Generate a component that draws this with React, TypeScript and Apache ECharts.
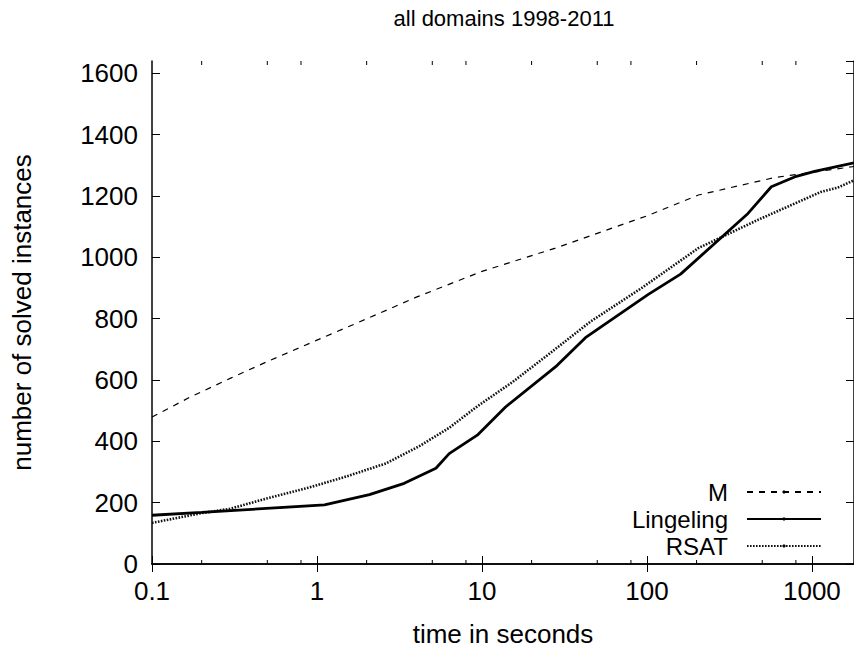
import React, { useEffect, useRef } from "react";
import * as echarts from "echarts";

const TITLE = "all domains 1998-2011";
const X_NAME = "time in seconds";
const Y_NAME = "number of solved instances";
const X_MIN = 0.1;
const X_MAX = 1800;
const Y_MIN = 0;
const Y_MAX = 1640;
const Y_STEP = 200;
const xMinorTicks = [0.2, 0.5, 0.8, 2, 5, 8, 20, 50, 80, 200, 500, 800];

const mX = [0.1, 0.17, 0.3, 0.5, 1, 1.77, 4, 10, 27.9, 100, 205, 594, 1800];
const mY = [479, 544, 606, 660, 730, 787, 870, 954, 1030, 1135, 1203, 1260, 1296];

const lingX = [0.1, 0.2, 1.11, 2.08, 3.38, 5.26, 6.33, 9.37, 13.9, 28.5, 42.4, 102, 160, 410, 568, 785, 1038, 1800];
const lingY = [159, 168, 193, 226, 263, 312, 360, 420, 512, 647, 738, 879, 945, 1143, 1230, 1262, 1280, 1308];

const rsatX = [0.1, 0.2, 0.297, 0.506, 0.904, 1.5, 2.62, 4.17, 6.33, 9.37, 15.3, 25.4, 45.4, 93, 205, 471, 1132, 1432, 1800];
const rsatY = [134, 166, 180, 215, 250, 285, 328, 384, 444, 514, 593, 684, 790, 900, 1030, 1122, 1213, 1227, 1251];

const FONT = "'Liberation Sans', Arial, Helvetica, sans-serif";

const pairs = (xs: number[], ys: number[]) => xs.map((x, i) => [x, ys[i]]);

export default function App() {
  const ref = useRef<HTMLDivElement>(null);
  useEffect(() => {
    const chart = echarts.init(ref.current!, null, { renderer: "svg" });
    const axisLine = { show: true, lineStyle: { color: "#000", width: 1.5 } };
    const tick = { show: true, inside: true, length: 8, lineStyle: { color: "#000", width: 1 } };
    const fmt = (v: number) => String(+Number(v).toPrecision(6));
    const legendBase = {
      right: 32,
      orient: "vertical",
      align: "right",
      itemWidth: 74,
      itemHeight: 4,
      padding: 0,
      selectedMode: false,
      itemStyle: { color: "#000", borderWidth: 0 },
      textStyle: { fontSize: 24, lineHeight: 24, color: "#000", fontFamily: FONT, padding: [0, 14, 0, 0] },
    };
    chart.setOption({
      animation: false,
      backgroundColor: "#fff",
      textStyle: { fontFamily: FONT },
      title: {
        text: TITLE,
        left: 504,
        top: 7,
        padding: 0,
        textAlign: "center",
        textStyle: { fontSize: 22, fontWeight: "normal", color: "#000", fontFamily: FONT },
      },
      grid: { left: 152, right: -2, top: 61, bottom: 84, containLabel: false },
      legend: [
        { ...legendBase, data: ["M"], top: 480 },
        { ...legendBase, data: ["Lingeling"], top: 507 },
        { ...legendBase, data: ["RSAT"], top: 534 },
      ],
      xAxis: [
        {
          type: "log",
          logBase: 10,
          min: X_MIN,
          max: X_MAX,
          position: "bottom",
          axisLine,
          axisTick: tick,
          splitLine: { show: false },
          axisLabel: { fontSize: 26, color: "#000", margin: 14, showMaxLabel: false, formatter: fmt, fontFamily: FONT },
          name: X_NAME,
          nameLocation: "middle",
          nameGap: 57,
          nameTextStyle: { fontSize: 26, color: "#000", fontFamily: FONT },
        },
        {
          type: "log",
          logBase: 10,
          min: X_MIN,
          max: X_MAX,
          position: "top",
          axisLine,
          axisTick: tick,
          splitLine: { show: false },
          axisLabel: { show: false },
        },
      ],
      yAxis: [
        {
          type: "value",
          min: Y_MIN,
          max: Y_MAX,
          interval: Y_STEP,
          position: "left",
          axisLine,
          axisTick: tick,
          splitLine: { show: false },
          axisLabel: { fontSize: 26, color: "#000", margin: 14, showMaxLabel: false, formatter: fmt, fontFamily: FONT },
          name: Y_NAME,
          nameLocation: "middle",
          nameGap: 117,
          nameRotate: 90,
          nameTextStyle: { fontSize: 26, color: "#000", fontFamily: FONT },
        },
        {
          type: "value",
          min: Y_MIN,
          max: Y_MAX,
          interval: Y_STEP,
          position: "right",
          axisLine,
          axisTick: tick,
          splitLine: { show: false },
          axisLabel: { show: false },
        },
      ],
      series: [
        {
          name: "M",
          type: "line",
          data: pairs(mX, mY),
          symbol: "none",
          itemStyle: { color: "#000" },
          lineStyle: { color: "#000", width: 1.2, type: [6, 6] },
          z: 3,
        },
        {
          name: "Lingeling",
          type: "line",
          data: pairs(lingX, lingY),
          symbol: "none",
          itemStyle: { color: "#000" },
          lineStyle: { color: "#000", width: 2.8, type: "solid" },
          z: 4,
        },
        {
          name: "RSAT",
          type: "line",
          data: pairs(rsatX, rsatY),
          symbol: "none",
          itemStyle: { color: "#111" },
          lineStyle: { color: "#111", width: 2.6, type: [1.6, 1.4] },
          z: 3,
        },
        {
          name: "minorTicks",
          type: "custom",
          silent: true,
          clip: false,
          data: xMinorTicks.map((v) => [v, Y_MIN]),
          renderItem: (_params: any, api: any) => {
            const v = api.value(0);
            const b = api.coord([v, Y_MIN]);
            const t = api.coord([v, Y_MAX]);
            const st = { stroke: "#000", lineWidth: 1 };
            return {
              type: "group",
              children: [
                { type: "line", shape: { x1: b[0], y1: b[1], x2: b[0], y2: b[1] - 4 }, style: st },
                { type: "line", shape: { x1: t[0], y1: t[1], x2: t[0], y2: t[1] + 4 }, style: st },
              ],
            };
          },
        },
      ],
    });
    return () => chart.dispose();
  }, []);
  return (
    <div
      ref={ref}
      style={{ position: "absolute", left: 0, top: 0, width: 854, height: 652, overflow: "hidden", background: "#fff" }}
    />
  );
}
